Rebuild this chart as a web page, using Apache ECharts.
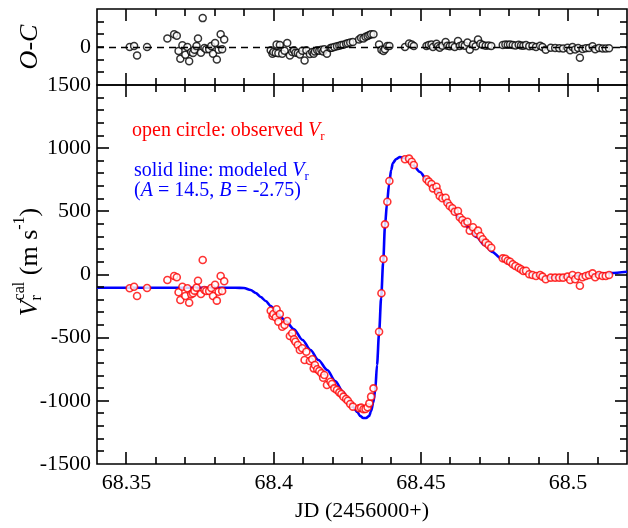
<!DOCTYPE html>
<html><head><meta charset="utf-8">
<script src="https://cdn.jsdelivr.net/npm/echarts@6/dist/echarts.min.js"></script>
<style>html,body{margin:0;padding:0;background:#fff}#c{width:628px;height:528px}</style>
</head><body><div id="c"></div>
<script>
// ---------------- data ----------------
const xMin = 68.34, xMax = 68.52;
const xMajorTicks = [68.35, 68.4, 68.45, 68.5];
const xMinorTicks = [68.36, 68.37, 68.38, 68.39, 68.41, 68.42, 68.43, 68.44, 68.46, 68.47, 68.48, 68.49, 68.51];
const vMin = -1500, vMax = 1500, vStep = 500;
const vMajorTicks = [-1000, -500, 0, 500, 1000];
const vMinorTicks = [-1400, -1300, -1200, -1100, -900, -800, -700, -600, -400, -300, -200, -100,
                     100, 200, 300, 400, 600, 700, 800, 900, 1100, 1200, 1300, 1400];
const ocMin = -300, ocMax = 300;
const ocMinorTicks = [-200, -100, 0, 100, 200];

// observed radial velocities (JD - 2456000, m/s)
const obsJD = [
 68.3511,68.3526,68.3536,68.3570,68.3639,68.3662,68.3671,68.3677,68.3683,68.3690,
 68.3700,68.3707,68.3713,68.3720,68.3726,68.3731,68.3738,68.3743,68.3753,68.3759,
 68.3765,68.3771,68.3781,68.3788,68.3794,68.3801,68.3807,68.3813,68.3820,68.3825,68.3832,
 68.3990,68.3996,68.3999,68.4007,68.4010,68.4016,68.4021,68.4029,68.4037,68.4046,
 68.4055,68.4063,68.4069,68.4074,68.4082,68.4089,68.4097,68.4105,68.4111,68.4123,
 68.4131,68.4136,68.4140,68.4148,68.4155,68.4162,68.4168,68.4172,68.4181,68.4193,
 68.4198,68.4206,68.4215,68.4223,68.4230,68.4237,68.4246,68.4252,68.4260,68.4269,
 68.4290,68.4297,68.4305,68.4312,68.4319,68.4325,68.4331,68.4339,
 68.4358,68.4366,68.4373,68.4378,68.4386,68.4393,
 68.4446,68.4460,68.4469,68.4476,
 68.4519,68.4527,68.4536,68.4541,68.4553,68.4558,68.4564,68.4573,68.4584,68.4590,
 68.4598,68.4607,68.4615,68.4626,68.4632,68.4641,68.4649,68.4658,68.4666,68.4677,
 68.4686,68.4694,68.4702,68.4710,68.4720,68.4730,68.4739,
 68.4778,68.4787,68.4795,68.4803,68.4812,68.4821,68.4832,68.4840,68.4848,68.4857,
 68.4868,68.4879,68.4891,68.4905,68.4913,68.4924,68.4941,68.4956,68.4970,68.4983,
 68.4998,68.5007,68.5015,68.5024,68.5034,68.5040,68.5049,68.5060,68.5071,68.5083,
 68.5092,68.5105,68.5117,68.5128,68.5139
];
const obsV = [
 -109,-97,-170,-107,-44,-12,-22,-141,-202,-97,
 -170,-109,-223,-157,-149,-128,-104,-49,-154,115,
 -123,-131,-131,-107,-170,-81,-207,-136,-12,-131,-54,
 -287,-329,-313,-339,-275,-374,-313,-413,-400,-368,
 -487,-465,-513,-532,-558,-598,-584,-677,-611,-685,
 -671,-743,-716,-750,-764,-782,-817,-796,-875,-849,
 -867,-901,-914,-933,-946,-967,-986,-999,-1025,-1046,
 -1059,-1054,-1067,-1065,-1051,-1020,-967,-901,
 -453,-149,123,397,576,740,
 912,917,893,867,
 754,735,716,682,695,655,621,603,608,568,
 542,524,497,503,453,431,405,418,347,374,
 326,347,305,279,252,234,212,
 128,125,109,101,81,67,54,41,28,30,
 2,-4,-12,-4,-17,-38,-25,-25,-25,-25,
 -17,-44,-4,-38,-12,-89,-22,-12,-4,9,
 -22,-4,-12,-12,-4
];
// O-C residuals (m/s) at the same epochs
const ocV = [
 0,8,-67,0,67,100,88,-32,-93,14,
 -61,0,-112,-40,-48,-21,8,67,-45,228,
 -8,-18,-18,8,-53,32,-99,-21,100,-18,59,
 -26,-53,-40,-45,19,-50,15,-53,-30,32,
 -67,-40,-26,-45,-48,-60,-30,-107,-26,-55,
 -40,-53,-35,-26,-30,-22,-35,-18,-53,-8,
 -5,0,5,10,15,18,25,30,35,40,
 59,72,67,80,86,94,100,100,
 19,-21,-32,-18,8,8,
 0,27,19,8,
 8,15,20,0,25,5,-5,10,40,10,
 5,12,0,48,8,15,10,35,-21,20,
 5,59,25,15,10,12,8,
 15,20,18,20,15,12,18,12,10,15,
 5,8,0,10,0,-21,-5,-8,-10,-12,
 -5,-25,0,-20,-8,-85,-15,-10,-8,5,
 -18,-8,-12,-12,-10
];
// modeled radial velocity curve (A = 14.5, B = -2.75)
const modelJD = [
 68.3400,68.3500,68.3600,68.3700,68.3800,68.3870,68.3899,68.3922,68.3939,68.3956,
 68.3973,68.3990,68.4014,68.4041,68.4068,68.4098,68.4125,68.4152,68.4182,68.4209,
 68.4236,68.4253,68.4270,68.4284,68.4294,68.4304,68.4314,68.4324,68.4331,68.4338,
 68.4345,68.4351,68.4358,68.4365,68.4372,68.4378,68.4385,68.4392,68.4399,68.4405,
 68.4416,68.4429,68.4443,68.4456,68.4473,68.4497,68.4520,68.4547,68.4574,68.4601,
 68.4632,68.4659,68.4689,68.4716,68.4743,68.4770,68.4801,68.4828,68.4858,68.4885,
 68.4912,68.4943,68.4976,68.5010,68.5054,68.5098,68.5145,68.5200
];
const modelV = [
 -105,-105,-105,-105,-105,-105,-107,-123,-146,-178,
 -210,-249,-313,-368,-431,-518,-598,-677,-756,-843,
 -930,-993,-1049,-1088,-1120,-1136,-1136,-1120,-1081,-1017,
 -914,-716,-463,-186,99,384,566,716,827,883,
 914,930,922,906,867,811,748,677,606,526,
 447,376,297,234,178,131,83,51,20,-4,
 -20,-24,-20,-16,-4,4,12,22
];

// ---------------- layout / style ----------------
const FONT = '"Liberation Serif", "Times New Roman", serif';
const TICKFS = 22;
const MAJ = 12, MIN = 7;
const G0 = {left: 97, right: 1, top: 9, height: 76};
const G1 = {left: 97, right: 1, top: 85, height: 379};

const mctx = document.createElement('canvas').getContext('2d');
function tw(t, size, it) { mctx.font = (it ? 'italic ' : '') + size + 'px ' + FONT; return mctx.measureText(t).width; }
function pieces(list, color) {
  let x = 0, prevX = 0; const ch = [];
  list.forEach(p => {
    const px = p.stack ? prevX : x;
    const w = tw(p.t, p.sz, p.it);
    ch.push({type: 'text', x: px, y: p.dy || 0, silent: true, style: {
      text: p.t, font: (p.it ? 'italic ' : '') + p.sz + 'px ' + FONT, fill: color,
      align: 'left', verticalAlign: 'middle'}});
    if (p.stack) { x = Math.max(x, px + w); } else { prevX = px; x = px + w; }
  });
  return {children: ch, width: x};
}
function centered(pc) { pc.children.forEach(c => c.x -= pc.width / 2); return pc.children; }

const hid = {show: false};
function xa(gi, extra) {
  return Object.assign({type: 'value', gridIndex: gi, position: 'bottom', min: xMin, max: xMax, splitNumber: 4,
    axisLine: {show: false, onZero: false}, axisTick: hid, minorTick: hid, splitLine: hid, axisLabel: hid}, extra || {});
}
function ya(gi, mn, mx, step, formatter) {
  return {type: 'value', gridIndex: gi, position: 'left', min: mn, max: mx, interval: step,
    axisLine: {show: false, onZero: false}, axisTick: hid, minorTick: hid, splitLine: hid,
    axisLabel: {show: true, color: '#000', fontFamily: FONT, fontSize: TICKFS, margin: 6, formatter}};
}

const legRed = pieces([{t: 'open circle: observed ', sz: 20}, {t: 'V', sz: 20, it: true}, {t: 'r', sz: 13, dy: 6}], '#ff0000');
const legBlue1 = pieces([{t: 'solid line: modeled ', sz: 20}, {t: 'V', sz: 20, it: true}, {t: 'r', sz: 13, dy: 6}], '#0000ff');
const legBlue2 = pieces([{t: '(', sz: 20}, {t: 'A', sz: 20, it: true}, {t: ' = 14.5, ', sz: 20}, {t: 'B', sz: 20, it: true}, {t: ' = -2.75)', sz: 20}], '#0000ff');
const yTitle = pieces([{t: 'V', sz: 26, it: true}, {t: 'r', sz: 16, dy: 7}, {t: 'cal', sz: 16, dy: -10, stack: true},
  {t: ' (m s', sz: 26}, {t: '-1', sz: 16, dy: -10}, {t: ')', sz: 26}], '#000');
const ocTitle = pieces([{t: 'O-C', sz: 26, it: true}], '#000');

const textGraphics = [
  {type: 'group', x: 132, y: 131, children: legRed.children},
  {type: 'group', x: 134, y: 171, children: legBlue1.children},
  {type: 'group', x: 134, y: 191, children: legBlue2.children},
  {type: 'group', x: 30, y: 262, rotation: Math.PI / 2, children: centered(yTitle)},
  {type: 'group', x: 30, y: 47, rotation: Math.PI / 2, children: centered(ocTitle)}
];

const gridStyle = {show: true, borderColor: '#000', borderWidth: 1.6, backgroundColor: 'transparent'};
const option = {
  animation: false,
  backgroundColor: '#fff',
  grid: [Object.assign({}, gridStyle, G0), Object.assign({}, gridStyle, G1)],
  xAxis: [
    xa(0),
    xa(1, {
      axisLabel: {show: true, customValues: xMajorTicks, color: '#000', fontFamily: FONT, fontSize: TICKFS, margin: 8,
        formatter: v => String(+(+v).toFixed(4))},
      name: 'JD (2456000+)', nameLocation: 'middle', nameGap: 36,
      nameTextStyle: {color: '#000', fontFamily: FONT, fontSize: 22}
    })
  ],
  yAxis: [
    ya(0, ocMin, ocMax, 300, v => (v === 0 ? '0' : '')),
    ya(1, vMin, vMax, vStep, v => String(v))
  ],
  series: [
    {type: 'line', xAxisIndex: 0, yAxisIndex: 0, data: [], z: 1, silent: true,
     markLine: {silent: true, symbol: ['none', 'none'], label: {show: false}, animation: false,
       lineStyle: {color: '#000', type: [7, 5], width: 1.3}, data: [{yAxis: 0}]}},
    {type: 'scatter', xAxisIndex: 0, yAxisIndex: 0, z: 3, symbol: 'circle', symbolSize: 7,
     itemStyle: {color: '#fff', borderColor: '#000', borderWidth: 1.5},
     data: obsJD.map((x, i) => [x, ocV[i]])},
    {type: 'line', xAxisIndex: 1, yAxisIndex: 1, z: 2, showSymbol: false, smooth: 0.3, smoothMonotone: 'x',
     lineStyle: {color: '#0000ff', width: 2.6},
     data: modelJD.map((x, i) => [x, modelV[i]])},
    {type: 'scatter', xAxisIndex: 1, yAxisIndex: 1, z: 3, symbol: 'circle', symbolSize: 7,
     itemStyle: {color: '#fff', borderColor: '#ff0000', borderWidth: 1.6},
     data: obsJD.map((x, i) => [x, obsV[i]])}
  ],
  graphic: textGraphics
};
const chart = echarts.init(document.getElementById('c'), null, {renderer: 'canvas'});
chart.setOption(option);

// inward tick marks on all four sides of both panels, placed through the axes' own scales
const X = v => chart.convertToPixel({xAxisIndex: 1}, v);
const Y0 = v => chart.convertToPixel({yAxisIndex: 0}, v);
const Y1 = v => chart.convertToPixel({yAxisIndex: 1}, v);
const tickLines = [];
function seg(x1, y1, x2, y2) {
  tickLines.push({type: 'line', silent: true, z: 100, zlevel: 1,
    shape: {x1, y1, x2, y2}, style: {stroke: '#000', lineWidth: 1.6, lineCap: 'butt'}});
}
const snap = p => Math.round(p);
const L = X(xMin), R = X(xMax);
[[Y0(ocMax), Y0(ocMin)], [Y1(vMax), Y1(vMin)]].forEach(([T, B]) => {
  xMajorTicks.forEach(v => { const x = snap(X(v)); seg(x, B, x, B - MAJ); seg(x, T, x, T + MAJ); });
  xMinorTicks.forEach(v => { const x = snap(X(v)); seg(x, B, x, B - MIN); seg(x, T, x, T + MIN); });
});
function yTicks(vals, Y, len) { vals.forEach(v => { const y = snap(Y(v)); seg(L, y, L + len, y); seg(R, y, R - len, y); }); }
yTicks(ocMinorTicks, Y0, MIN);
yTicks(vMajorTicks, Y1, MAJ);
yTicks(vMinorTicks, Y1, MIN);
chart.setOption({graphic: textGraphics.concat(tickLines)});
</script></body></html>
